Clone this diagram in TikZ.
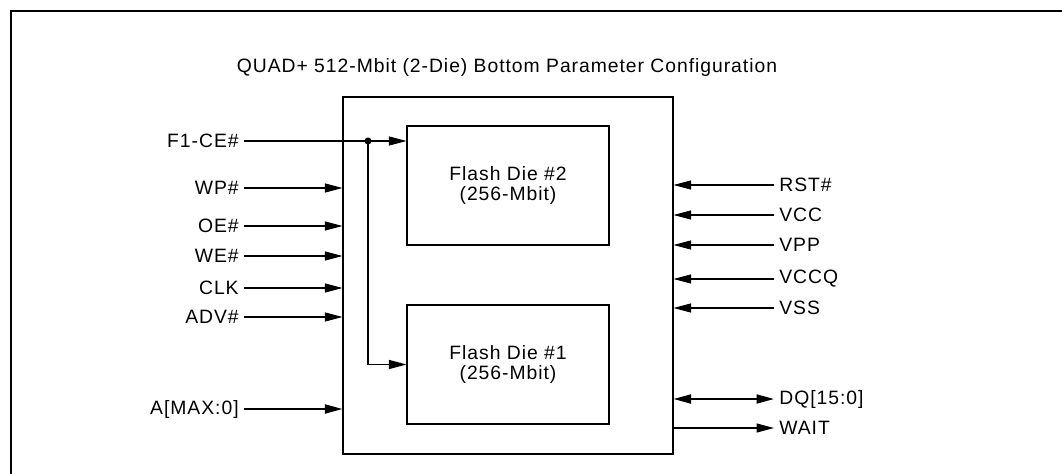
\documentclass[tikz,border=0pt]{standalone}
\usepackage{fontspec}
\setmainfont{Liberation Sans}[LetterSpace=5]
\usetikzlibrary{arrows.meta}
\begin{document}
\begin{tikzpicture}[x=0.2mm,y=-0.2mm,every node/.style={font=\fontsize{11}{11}\selectfont},
  tip/.style={Triangle[length=3.5mm,width=1.8mm]},
  sig/.style={-{Triangle[length=3.5mm,width=1.8mm]},line width=0.6pt},
  bus/.style={line width=1.1pt},
  box/.style={draw,line width=0.6pt,inner sep=0pt,align=center},
  pin/.style={inner sep=1mm}]
\useasboundingbox (0,0) rectangle (1062,474);
\draw[line width=1.1pt] (11,474) -- (11,11) -- (1062,11);
\node (title) at (507,68) {QUAD+ 512-Mbit (2-Die) Bottom Parameter Configuration};
% package and dies
\node[box,minimum width=66mm,minimum height=71.4mm] (chip) at (508,275.5) {};
\node[box,minimum width=40.4mm,minimum height=23.8mm] (die2) at (508,185.5) {Flash Die \#2\\(256-Mbit)};
\node[box,minimum width=40.4mm,minimum height=23.8mm] (die1) at (508,364.5) {Flash Die \#1\\(256-Mbit)};
% chip enable to both dies
\node[pin,anchor=east] (f1ce) at (244,141) {F1-CE\#};
\draw[sig] (f1ce) -- (f1ce -| die2.west);
\coordinate (tap) at (368,141);
\fill (tap) circle (3.5);
\draw[sig] (tap) |- (die1.west);
% inputs
\foreach \nm/\y/\txt in {wp/188/WP\#, oe/226/OE\#, we/256/WE\#, clk/288/CLK, adv/317/ADV\#} {
  \node[pin,anchor=east] (\nm) at (244,\y) {\txt};
  \draw[sig] (\nm) -- (\nm -| chip.west);
}
\node[pin,anchor=east] (addr) at (244,409) {A[MAX:0]};
\draw[sig,bus] (addr) -- (addr -| chip.west);
% supplies and reset
\foreach \nm/\y/\txt in {rst/185/RST\#, vcc/215/VCC, vpp/245/VPP, vccq/279/VCCQ, vss/308/VSS} {
  \node[pin,anchor=west] (\nm) at (774,\y) {\txt};
  \draw[sig] (\nm) -- (\nm -| chip.east);
}
% data and wait
\node[pin,anchor=west] (dq) at (774,399) {DQ[15:0]};
\draw[bus,{Triangle[length=3.5mm,width=1.8mm]}-{Triangle[length=3.5mm,width=1.8mm]}] (dq) -- (dq -| chip.east);
\node[pin,anchor=west] (wait) at (774,428) {WAIT};
\draw[sig] (wait -| chip.east) -- (wait);
\end{tikzpicture}
\end{document}
